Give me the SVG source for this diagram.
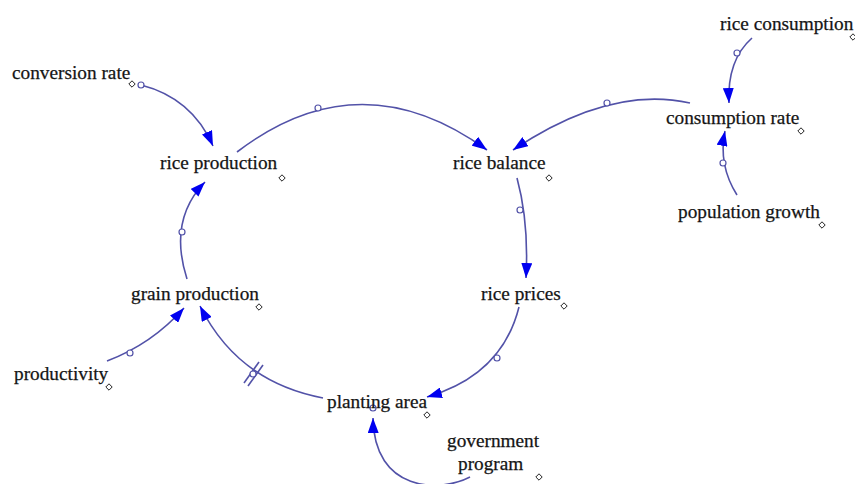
<svg xmlns="http://www.w3.org/2000/svg" width="855" height="484" viewBox="0 0 855 484">
<style>
.t{font-family:"Liberation Serif","Times New Roman",serif;font-size:19.3px;fill:#151515;stroke:#151515;stroke-width:0.25}
.c{fill:none;stroke:#5252a8;stroke-width:1.6}
.d{fill:#fff;stroke:#222;stroke-width:1}
.h{fill:#fff;stroke:#5252a8;stroke-width:1.2}
</style>
<defs>
<marker id="a" markerUnits="userSpaceOnUse" markerWidth="15" markerHeight="11" refX="15" refY="5.5" orient="auto">
<path d="M0,0 L15,5.5 L0,11 Z" fill="#0000f0"/>
</marker>
<path id="dm" d="M0,-3.2 L3.2,0 L0,3.2 L-3.2,0 Z"/>
</defs>
<rect width="855" height="484" fill="#fff"/>
<g id="connectors">
<path class="c" d="M141,85 Q192,98 213,146" marker-end="url(#a)"/>
<path class="c" d="M237,152 Q360,58 487,150" marker-end="url(#a)"/>
<path class="c" d="M690,103 Q610,85 513,150" marker-end="url(#a)"/>
<path class="c" d="M752,38 Q727,60 729,103" marker-end="url(#a)"/>
<path class="c" d="M737,195 Q718,165 725,131" marker-end="url(#a)"/>
<path class="c" d="M517,178 Q529,222 526,278" marker-end="url(#a)"/>
<path class="c" d="M519,307 Q502,375 427,397" marker-end="url(#a)"/>
<path class="c" d="M323,398 Q238,382 200,306" marker-end="url(#a)"/>
<path class="c" d="M187,279 Q168,220 205,182" marker-end="url(#a)"/>
<path class="c" d="M107,361 Q152,344 184,308" marker-end="url(#a)"/>
<path class="c" d="M470,477 C440,493 374,492 373,418" marker-end="url(#a)"/>
<line class="c" x1="244" y1="383" x2="259" y2="362"/>
<line class="c" x1="248" y1="386" x2="263" y2="365"/>
<circle class="h" cx="141" cy="85" r="3"/>
<circle class="h" cx="318" cy="108" r="3"/>
<circle class="h" cx="607" cy="103" r="3"/>
<circle class="h" cx="737" cy="53" r="3"/>
<circle class="h" cx="723" cy="163" r="3"/>
<circle class="h" cx="520" cy="210" r="3"/>
<circle class="h" cx="497" cy="358" r="3"/>
<circle class="h" cx="253" cy="374" r="3"/>
<circle class="h" cx="182" cy="232" r="3"/>
<circle class="h" cx="130" cy="353" r="3"/>
<circle class="h" cx="373" cy="408" r="3"/>
</g>
<g id="conversion-rate"><text class="t" x="12" y="79">conversion rate</text><use href="#dm" class="d" x="132" y="84"/></g>
<g id="rice-production"><text class="t" x="160" y="169">rice production</text><use href="#dm" class="d" x="282" y="178"/></g>
<g id="rice-balance"><text class="t" x="453" y="169">rice balance</text><use href="#dm" class="d" x="549" y="178"/></g>
<g id="rice-consumption"><text class="t" x="720" y="30">rice consumption</text><use href="#dm" class="d" x="853" y="37"/></g>
<g id="consumption-rate"><text class="t" x="666" y="124">consumption rate</text><use href="#dm" class="d" x="801" y="131"/></g>
<g id="population-growth"><text class="t" x="678" y="218">population growth</text><use href="#dm" class="d" x="822" y="225"/></g>
<g id="rice-prices"><text class="t" x="481" y="300">rice prices</text><use href="#dm" class="d" x="564" y="306"/></g>
<g id="grain-production"><text class="t" x="131" y="300">grain production</text><use href="#dm" class="d" x="259" y="307"/></g>
<g id="productivity"><text class="t" x="14" y="380">productivity</text><use href="#dm" class="d" x="109" y="387"/></g>
<g id="planting-area"><text class="t" x="327" y="408">planting area</text><use href="#dm" class="d" x="427" y="415"/></g>
<g id="government-program"><text class="t" x="447" y="447">government</text><text class="t" x="458" y="470">program</text><use href="#dm" class="d" x="539" y="477"/></g>
</svg>
